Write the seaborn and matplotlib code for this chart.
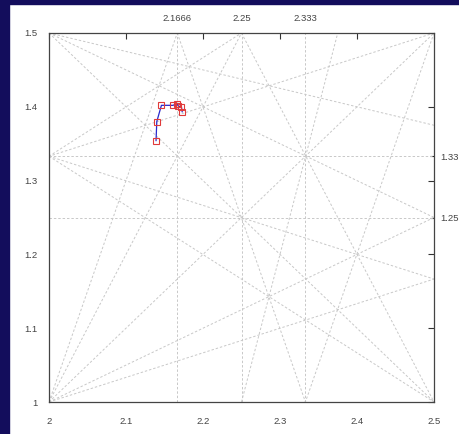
import matplotlib
matplotlib.use("Agg")
import matplotlib.pyplot as plt
import seaborn as sns
import pandas as pd
from matplotlib.patches import Rectangle

sns.set_style("white")
plt.rcParams['font.family'] = ['Liberation Sans', 'DejaVu Sans']

# path of points (in order)
path_x = [2.139, 2.140, 2.146, 2.161, 2.166, 2.168, 2.172, 2.173]
path_y = [1.354, 1.380, 1.402, 1.402, 1.404, 1.401, 1.400, 1.393]

# construction lines: start (x0, y0) -> end (x1, y1)
seg_x0 = [2.0, 2.0, 2.0, 2.0, 2.0,
          2.0, 2.0, 2.0,
          2.5, 2.5,
          2.1666, 2.25,
          2.0, 2.0, 2.0,
          2.25]
seg_y0 = [1.0, 1.0, 1.0, 1.0, 1.0,
          1.5, 1.5, 1.5,
          1.5, 1.5,
          1.5, 1.5,
          1.333, 1.333, 1.333,
          1.0]
seg_x1 = [2.1666, 2.25, 2.5, 2.5, 2.5,
          2.5, 2.5, 2.5,
          2.0, 2.333,
          2.333, 2.5,
          2.5, 2.25, 2.5,
          2.375]
seg_y1 = [1.5, 1.5, 1.5, 1.25, 1.1666,
          1.0, 1.25, 1.375,
          1.333, 1.0,
          1.0, 1.0,
          1.0, 1.5, 1.1666,
          1.5]

vlines_x = [2.1666, 2.25, 2.333]
hlines_y = [1.333, 1.25]

top_ticks = [2.1666, 2.25, 2.333]
top_labels = ["2.1666", "2.25", "2.333"]
right_ticks = [1.333, 1.25]
right_labels = ["1.33", "1.25"]

xticks = [2.0, 2.1, 2.2, 2.3, 2.4, 2.5]
xlabels = ["2", "2.1", "2.2", "2.3", "2.4", "2.5"]
yticks = [1.0, 1.1, 1.2, 1.3, 1.4, 1.5]
ylabels = ["1", "1.1", "1.2", "1.3", "1.4", "1.5"]

fig = plt.figure(figsize=(4.59, 4.34), dpi=100)
fig.patch.set_facecolor("white")
navy = "#130d5c"
fig.patches.append(Rectangle((0, 0), 9/459, 1, transform=fig.transFigure, color=navy, zorder=-10))
fig.patches.append(Rectangle((0, 1 - 4/434), 1, 4/434, transform=fig.transFigure, color=navy, zorder=-10))

ax = fig.add_axes([49/459, 32/434, 385/459, 369/434])
grid_kw = dict(color="#c8c8c8", lw=0.7, ls=(0, (2.5, 2)), zorder=1)
for x0, y0, x1, y1 in zip(seg_x0, seg_y0, seg_x1, seg_y1):
    ax.plot([x0, x1], [y0, y1], **grid_kw)
for v in vlines_x:
    ax.plot([v, v], [1.0, 1.5], **grid_kw)
for h in hlines_y:
    ax.plot([2.0, 2.5], [h, h], **grid_kw)

df = pd.DataFrame({"x": path_x, "y": path_y})
sns.lineplot(data=df, x="x", y="y", sort=False, ax=ax, color="#2828cc", lw=0.9,
             marker="s", markersize=4.6, markerfacecolor="none",
             markeredgecolor="#e03a3a", markeredgewidth=0.8, zorder=3)

fs = 6.8
ax.set_xlim(2.0, 2.5)
ax.set_ylim(1.0, 1.5)
ax.set_xticks(xticks)
ax.set_xticklabels(xlabels)
ax.set_yticks(yticks)
ax.set_yticklabels(ylabels)
ax.set_xlabel("")
ax.set_ylabel("")
ax.tick_params(direction="in", length=4, width=0.8, labelsize=fs, colors="#333333",
               labelcolor="#444444", top=True, right=True)
ax.tick_params(axis="x", pad=10.5)
ax.tick_params(axis="y", pad=8)
for s in ax.spines.values():
    s.set_color("#444444")
    s.set_linewidth(0.9)

axt = ax.secondary_xaxis("top")
axt.set_xticks(top_ticks)
axt.set_xticklabels(top_labels)
axt.tick_params(length=0, labelsize=fs, labelcolor="#444444", pad=7)
axt.spines["top"].set_visible(False)

axr = ax.secondary_yaxis("right")
axr.set_yticks(right_ticks)
axr.set_yticklabels(right_labels)
axr.tick_params(direction="in", length=3, labelsize=fs, labelcolor="#444444", pad=4.5)
axr.spines["right"].set_visible(False)

fig.savefig("out.png", dpi=100)
